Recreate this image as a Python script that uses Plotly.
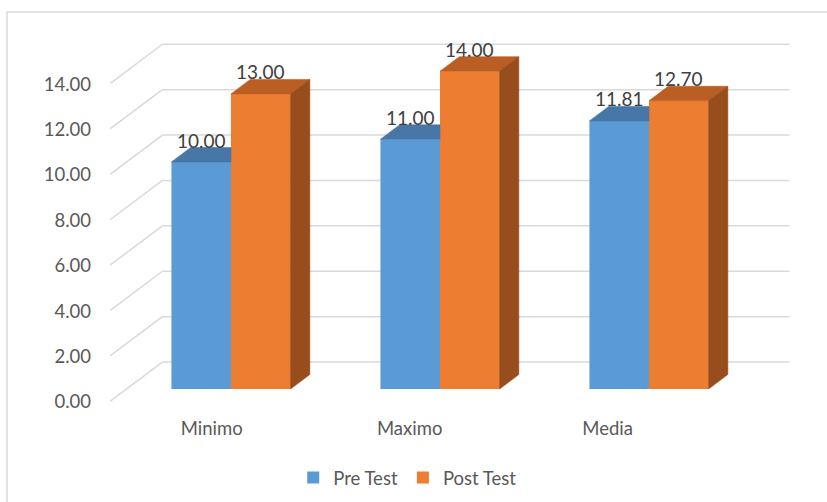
import plotly.graph_objects as go

# ---- data -------------------------------------------------------------
categories = ["Minimo", "Maximo", "Media"]
pre_test = [10.00, 11.00, 11.81]
post_test = [13.00, 14.00, 12.70]
y_ticks = [0, 2, 4, 6, 8, 10, 12, 14]

# ---- styling / pseudo-3D geometry -------------------------------------
FONT = "Lato"
TXT = "#595959"
GRID = "#D9D9D9"
BLUE, BLUE_TOP = "#5B9BD5", "#4677A6"
ORANGE, ORANGE_TOP, ORANGE_SIDE = "#ED7D31", "#BA5E24", "#984D1D"

BAR_W = 0.285            # width of one bar (category units)
WALL_DX, WALL_DY = 0.249, 1.72   # oblique offset of the full floor depth
BAR_FRONT = 0.31         # depth fraction where the bar fronts sit
BAR_DEPTH = 0.37         # depth fraction occupied by the bars
X_LO, X_HI = -0.5, 2.5   # wall extent along the category axis

front_dx, front_dy = -BAR_FRONT * WALL_DX, -BAR_FRONT * WALL_DY
back_dx, back_dy = (1 - BAR_FRONT) * WALL_DX, (1 - BAR_FRONT) * WALL_DY
bdx, bdy = BAR_DEPTH * WALL_DX, BAR_DEPTH * WALL_DY

xs = list(range(len(categories)))

fig = go.Figure()

# front faces of the bars
fig.add_trace(go.Bar(x=xs, y=pre_test, name="Pre Test", width=BAR_W, offset=-BAR_W,
                     marker=dict(color=BLUE, line=dict(width=0))))
fig.add_trace(go.Bar(x=xs, y=post_test, name="Post Test", width=BAR_W, offset=0,
                     marker=dict(color=ORANGE, line=dict(width=0))))


def poly_trace(polys, color):
    px, py = [], []
    for p in polys:
        px += [q[0] for q in p] + [p[0][0], None]
        py += [q[1] for q in p] + [p[0][1], None]
    return go.Scatter(x=px, y=py, mode="lines", fill="toself", fillcolor=color,
                      line=dict(color=color, width=0.6), showlegend=False,
                      hoverinfo="skip")


blue_tops, orange_tops, orange_sides = [], [], []
for i, (a, b) in zip(xs, zip(pre_test, post_test)):
    xl, xc, xr = i - BAR_W, i, i + BAR_W
    # top of the blue bar, the part not hidden by the orange front face
    if b >= a + bdy:
        blue_tops.append([(xl, a), (xc, a), (xc, a + bdy), (xl + bdx, a + bdy)])
    else:
        blue_tops.append([(xl, a), (xc, a), (xc + bdx, a + bdy), (xl + bdx, a + bdy)])
    orange_tops.append([(xc, b), (xr, b), (xr + bdx, b + bdy), (xc + bdx, b + bdy)])
    orange_sides.append([(xr, 0), (xr, b), (xr + bdx, b + bdy), (xr + bdx, bdy)])

fig.add_trace(poly_trace(blue_tops, BLUE_TOP))
fig.add_trace(poly_trace(orange_tops, ORANGE_TOP))
fig.add_trace(poly_trace(orange_sides, ORANGE_SIDE))

# value labels above each bar
for i, (a, b) in zip(xs, zip(pre_test, post_test)):
    for xv, v in ((i - BAR_W / 2, a), (i + BAR_W / 2, b)):
        fig.add_annotation(x=xv, y=v + bdy, text=f"{v:.2f}", showarrow=False,
                           yanchor="middle", yshift=7.5,
                           font=dict(family=FONT, size=19, color="#404040"))

# back wall gridlines and the receding floor-to-wall diagonals
shapes = []
for t in y_ticks:
    shapes.append(dict(type="line", xref="x", yref="y", layer="below",
                       x0=X_LO + back_dx, y0=t + back_dy,
                       x1=X_HI + back_dx, y1=t + back_dy,
                       line=dict(color=GRID, width=1.5)))
    shapes.append(dict(type="line", xref="x", yref="y", layer="below",
                       x0=X_LO + front_dx, y0=t + front_dy,
                       x1=X_LO + back_dx, y1=t + back_dy,
                       line=dict(color=GRID, width=1.5)))
# chart frame
shapes.append(dict(type="rect", xref="paper", yref="paper",
                   x0=-0.1255, y0=-0.25, x1=1.04, y1=1.0205,
                   line=dict(color=GRID, width=1.5), fillcolor="rgba(0,0,0,0)"))

# category labels lean slightly with the oblique view
label_pos = [i + front_dx - 0.015 - 0.053 * i for i in xs]

fig.update_layout(
    width=827, height=502,
    margin=dict(l=96, r=22, t=20, b=92),
    paper_bgcolor="white", plot_bgcolor="white",
    barmode="overlay",
    shapes=shapes,
    showlegend=True,
    legend=dict(orientation="h", xref="container", yref="container",
                x=0.493, y=0.048, xanchor="center", yanchor="middle",
                font=dict(family=FONT, size=18.5, color=TXT),
                itemwidth=30, traceorder="normal"),
    xaxis=dict(range=[-0.6459, 2.7464], tickvals=label_pos, ticktext=categories,
               showgrid=False, zeroline=False, showline=False, ticks="",
               ticklabelstandoff=5,
               tickfont=dict(family=FONT, size=18.5, color=TXT)),
    yaxis=dict(range=[-0.925, 16.256], tickvals=y_ticks,
               ticktext=[f"{t:.2f}" for t in y_ticks],
               showgrid=False, zeroline=False, showline=False, ticks="",
               ticklabelshift=13, ticklabelstandoff=4,
               tickfont=dict(family=FONT, size=18.5, color=TXT)),
)

fig.write_html("out.html")
